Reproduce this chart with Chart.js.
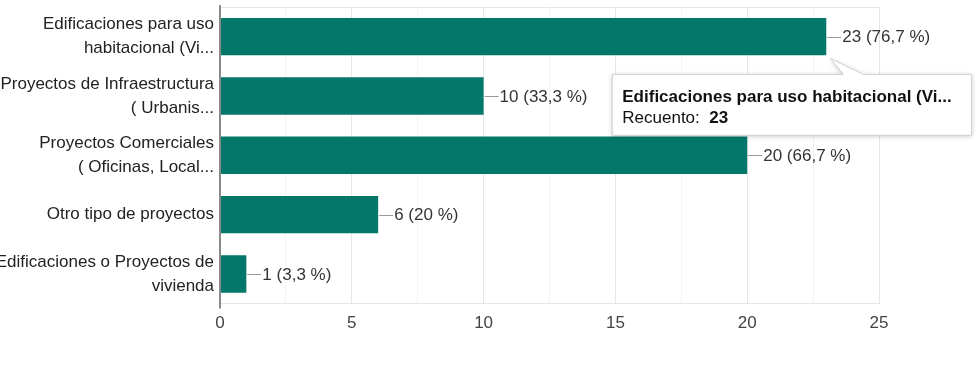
<!DOCTYPE html>
<html lang="es">
<head>
<meta charset="UTF-8">
<title>Recuento</title>
<script src="https://cdn.jsdelivr.net/npm/chart.js@4.4.0/dist/chart.umd.min.js"></script>
<style>
  html, body { margin: 0; padding: 0; background: #fff; }
  .chartbox { width: 979px; height: 365px; position: relative; }
</style>
</head>
<body>
<div class="chartbox"><canvas id="myChart"></canvas></div>
<script>
  const categories = [
    ['Edificaciones para uso', 'habitacional (Vi...'],
    ['Proyectos de Infraestructura', '( Urbanis...'],
    ['Proyectos Comerciales', '( Oficinas, Local...'],
    'Otro tipo de proyectos',
    ['Edificaciones o Proyectos de', 'vivienda']
  ];
  const counts = [23, 10, 20, 6, 1];
  const percents = ['76,7 %', '33,3 %', '66,7 %', '20 %', '3,3 %'];
  const tooltipTitle = 'Edificaciones para uso habitacional (Vi...';
  const tooltipLabel = 'Recuento:';

  const FONT = 'Arial, "Liberation Sans", sans-serif';
  Chart.defaults.font.family = FONT;

  // top line of the plot frame + the left axis line (a bit longer than the plot)
  const frame = {
    id: 'frame',
    beforeDatasetsDraw(chart) {
      const a = chart.chartArea;
      const ctx = chart.ctx;
      ctx.save();
      ctx.strokeStyle = '#e6e6e6';
      ctx.lineWidth = 1;
      ctx.beginPath();
      ctx.moveTo(a.left, a.top + 0.5);
      ctx.lineTo(a.right, a.top + 0.5);
      ctx.stroke();
      ctx.restore();
    },
    afterDatasetsDraw(chart) {
      const a = chart.chartArea;
      const ctx = chart.ctx;
      ctx.save();
      ctx.strokeStyle = '#8a8a8a';
      ctx.lineWidth = 2;
      ctx.beginPath();
      ctx.moveTo(a.left, a.top - 2);
      ctx.lineTo(a.left, a.bottom + 5);
      ctx.stroke();
      ctx.restore();
    }
  };

  // "—23 (76,7 %)" labels at the end of every bar
  const valueLabels = {
    id: 'valueLabels',
    afterDatasetsDraw(chart) {
      const ctx = chart.ctx;
      const meta = chart.getDatasetMeta(0);
      ctx.save();
      ctx.font = '17px ' + FONT;
      ctx.textBaseline = 'middle';
      meta.data.forEach((bar, i) => {
        const y = Math.round(bar.y) + 0.5;
        ctx.strokeStyle = '#999';
        ctx.lineWidth = 1;
        ctx.beginPath();
        ctx.moveTo(bar.x + 1, y);
        ctx.lineTo(bar.x + 15, y);
        ctx.stroke();
        ctx.fillStyle = '#333';
        ctx.fillText(counts[i] + ' (' + percents[i] + ')', bar.x + 16, bar.y + 1);
      });
      ctx.restore();
    }
  };

  // the hover box hanging from the first bar
  const hoverBox = {
    id: 'hoverBox',
    afterDraw(chart) {
      const ctx = chart.ctx;
      const bar = chart.getDatasetMeta(0).data[0];
      const bottom = bar.y + bar.height / 2;
      ctx.save();
      ctx.font = 'bold 17px ' + FONT;
      const w = ctx.measureText(tooltipTitle).width + 30;
      const h = 61;
      const left = bar.x - 214;
      const top = bottom + 19;
      ctx.shadowColor = 'rgba(0,0,0,0.22)';
      ctx.shadowBlur = 5;
      ctx.shadowOffsetY = 1;
      ctx.fillStyle = '#fff';
      ctx.beginPath();
      ctx.moveTo(left, top);
      ctx.lineTo(bar.x + 17, top);
      ctx.lineTo(bar.x + 4, bottom + 3);
      ctx.lineTo(bar.x + 37, top);
      ctx.lineTo(left + w, top);
      ctx.lineTo(left + w, top + h);
      ctx.lineTo(left, top + h);
      ctx.closePath();
      ctx.fill();
      ctx.shadowColor = 'transparent';
      ctx.strokeStyle = '#d0d0d0';
      ctx.lineWidth = 1;
      ctx.stroke();

      ctx.fillStyle = '#111';
      ctx.textBaseline = 'middle';
      ctx.fillText(tooltipTitle, left + 10, top + 23);
      ctx.font = '17px ' + FONT;
      ctx.fillText(tooltipLabel, left + 10, top + 44);
      const lw = ctx.measureText(tooltipLabel + '  ').width;
      ctx.font = 'bold 17px ' + FONT;
      ctx.fillText(String(counts[0]), left + 10 + lw, top + 44);
      ctx.restore();
    }
  };

  const ctx = document.getElementById('myChart').getContext('2d');
  const myChart = new Chart(ctx, {
    type: 'bar',
    data: {
      labels: categories,
      datasets: [{
        label: 'Recuento',
        data: counts,
        backgroundColor: '#03786a',
        borderWidth: 0,
        barPercentage: 0.63,
        categoryPercentage: 1
      }]
    },
    options: {
      indexAxis: 'y',
      responsive: true,
      maintainAspectRatio: false,
      animation: false,
      layout: { padding: { top: 7, right: 100, bottom: 21, left: 0 } },
      plugins: {
        legend: { display: false },
        tooltip: { enabled: false }
      },
      scales: {
        x: {
          min: 0,
          max: 25,
          afterFit: scale => { scale.paddingLeft = 0; scale.paddingRight = 0; },
          ticks: {
            stepSize: 2.5,
            autoSkip: false,
            maxRotation: 0,
            color: '#444',
            font: { size: 17 },
            padding: 10,
            callback: v => (v % 5 === 0 ? v : '')
          },
          grid: {
            drawTicks: false,
            color: c => (c.tick && c.tick.value % 5 === 0 ? '#e6e6e6' : '#f3f3f3')
          },
          border: { display: true, color: '#e6e6e6' }
        },
        y: {
          afterFit: scale => {
            scale.width = 220;
            scale.paddingTop = 0;
            scale.paddingBottom = 0;
          },
          ticks: {
            autoSkip: false,
            color: '#222',
            font: { size: 17, lineHeight: 1.4 },
            padding: 6
          },
          grid: { display: false, drawTicks: false },
          border: { display: false }
        }
      }
    },
    plugins: [frame, valueLabels, hoverBox]
  });
</script>
</body>
</html>
